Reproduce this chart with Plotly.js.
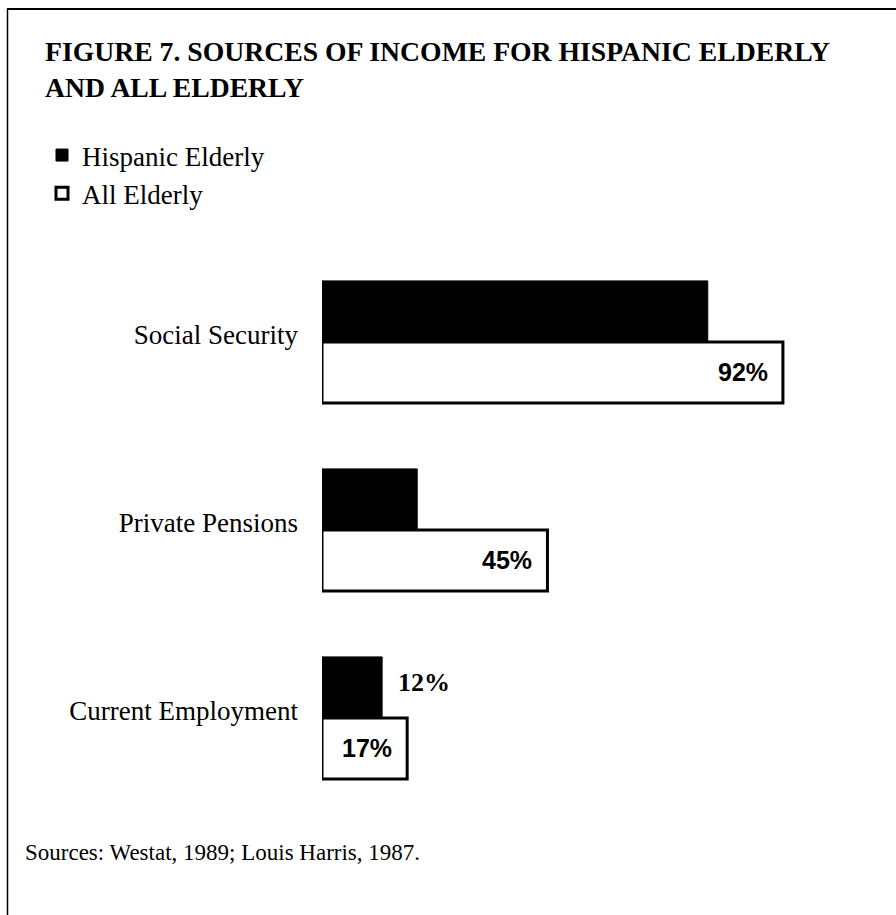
<!DOCTYPE html>
<html>
<head>
<meta charset="utf-8">
<script src="https://cdn.plot.ly/plotly-3.0.1.min.js"></script>
<style>html,body{margin:0;padding:0;background:#fff;}#chart{width:896px;height:915px;}</style>
</head>
<body>
<div id="chart"></div>
<script>
// ---- data ----
const categories = ["Social Security", "Private Pensions", "Current Employment"];
const hispanicElderly = [77, 19, 12];
const allElderly = [92, 45, 17];
const hispanicLabels = ["", "", "12%"];
const allLabels = ["92%", "45%", "17%"];
const seriesNames = ["Hispanic Elderly", "All Elderly"];
const titleText = "FIGURE 7. SOURCES OF INCOME FOR HISPANIC ELDERLY<br>AND ALL ELDERLY";
const sourceText = "Sources: Westat, 1989; Louis Harris, 1987.";

// ---- layout geometry ----
const W = 896, H = 915;
const M = {l: 322, r: 73, t: 248, b: 103, pad: 0};
const plotW = W - M.l - M.r, plotH = H - M.t - M.b;
const px2x = px => (px - M.l) / plotW;
const py2y = py => (H - M.b - py) / plotH;

const serif = "Liberation Serif, Times New Roman, serif";
const sans = "Liberation Sans, Arial, sans-serif";

const traces = [
  {
    type: "bar", orientation: "h", name: seriesNames[0],
    y: categories, x: hispanicElderly,
    marker: {color: "#000", line: {color: "#000", width: 1}},
    hoverinfo: "skip"
  },
  {
    type: "bar", orientation: "h", name: seriesNames[1],
    y: categories, x: allElderly,
    marker: {color: "#fff", line: {color: "#000", width: 3}},
    hoverinfo: "skip"
  }
];

const annotations = [];
categories.forEach((c, i) => {
  if (allLabels[i]) annotations.push({
    x: allElderly[i], y: c, xref: "x", yref: "y",
    text: allLabels[i], showarrow: false,
    xanchor: "right", yanchor: "middle", xshift: -13, yshift: -30,
    font: {family: sans, size: 25, color: "#000", weight: "bold"}
  });
  if (hispanicLabels[i]) annotations.push({
    x: hispanicElderly[i], y: c, xref: "x", yref: "y",
    text: hispanicLabels[i], showarrow: false,
    xanchor: "left", yanchor: "middle", xshift: 14, yshift: 36,
    font: {family: serif, size: 26, color: "#000", weight: "bold"}
  });
});
annotations.push({
  xref: "paper", yref: "paper", x: px2x(23), y: py2y(852),
  xanchor: "left", yanchor: "middle", showarrow: false,
  text: sourceText, font: {family: serif, size: 23, color: "#000"}
});

const layout = {
  width: W, height: H,
  margin: M,
  paper_bgcolor: "#fff", plot_bgcolor: "#fff",
  showlegend: true,
  barmode: "group", bargap: 0.35, bargroupgap: 0,
  title: {
    text: titleText, xref: "container", yref: "container",
    x: 45 / W, xanchor: "left", y: 1 - 61 / H, yanchor: "top",
    font: {family: serif, size: 27.7, color: "#000", weight: "bold"}
  },
  legend: {
    x: px2x(42), xanchor: "left", y: py2y(131), yanchor: "top",
    traceorder: "normal", bgcolor: "rgba(0,0,0,0)", borderwidth: 0,
    font: {family: serif, size: 27, color: "#000"}
  },
  xaxis: {range: [0, 100], visible: false, fixedrange: true},
  yaxis: {
    type: "category", categoryorder: "array", categoryarray: categories,
    range: [2.5, -0.5], showline: false, showgrid: false, zeroline: false,
    ticks: "", ticklabelstandoff: 23, ticklabelshift: 7,
    tickfont: {family: serif, size: 27, color: "#000"}, fixedrange: true
  },
  shapes: [
    {type: "line", xref: "paper", yref: "paper", x0: px2x(7), x1: px2x(896), y0: py2y(9), y1: py2y(9), line: {color: "#000", width: 2}},
    {type: "line", xref: "paper", yref: "paper", x0: px2x(7.5), x1: px2x(7.5), y0: py2y(9), y1: py2y(915), line: {color: "#000", width: 1.5}}
  ],
  annotations: annotations
};

Plotly.newPlot("chart", traces, layout, {displayModeBar: false, staticPlot: true});
</script>
</body>
</html>
